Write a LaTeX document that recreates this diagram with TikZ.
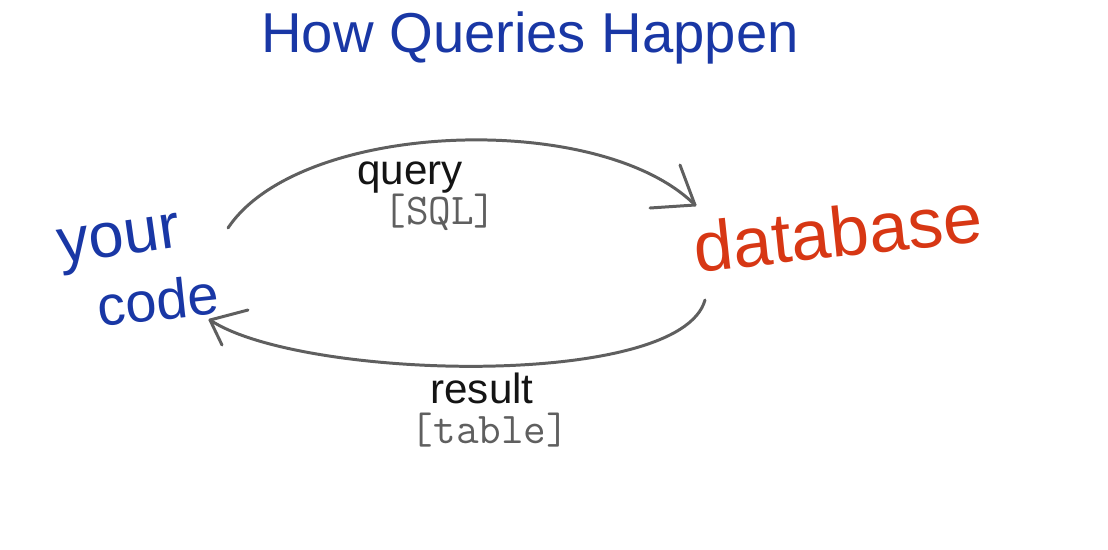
\documentclass[tikz,border=0pt]{standalone}
\usepackage{fontspec}
\setmainfont{Liberation Sans}
\definecolor{inkblue}{RGB}{25,55,165}
\definecolor{inkred}{RGB}{215,55,20}
\definecolor{inkgray}{RGB}{95,95,95}
\definecolor{inkblack}{RGB}{20,20,20}
\begin{document}
\begin{tikzpicture}[x=0.02cm,y=-0.02cm,
  flow/.style={draw=inkgray,line width=1.7pt,line cap=round,line join=round},
  lbl/.style={inner sep=0pt,font=\fontsize{24}{26}\selectfont,text=inkblack},
  sub/.style={inner sep=0pt,font=\fontsize{25}{27}\selectfont\ttfamily,text=inkgray}]
\useasboundingbox (0,0) rectangle (1108,549);
\node[inner sep=0pt,text=inkblue,font=\fontsize{32}{34}\selectfont] (title) at (530,38) {How Queries Happen};
\node[inner sep=0pt,text=inkblue,font=\fontsize{36}{38}\selectfont,rotate=8] (your) at (120,245) {your};
\node[inner sep=0pt,text=inkblue,font=\fontsize{32}{34}\selectfont,rotate=6] (code) at (158,300) {code};
\node[inner sep=0pt,text=inkred,font=\fontsize{40}{42}\selectfont,rotate=6] (db) at (838,232) {database};
\node[lbl] (query) at (410,178) {query};
\node[sub] (sql) at (440,212) {[SQL]};
\node[lbl] (result) at (482,388) {result};
\node[sub] (table) at (490,430) {[table]};
\coordinate (a1) at (228,228);
\coordinate (a2) at (695,205);
\coordinate (b1) at (705,300);
\coordinate (b2) at (210,320);
\draw[flow] (a1) .. controls (300,120) and (600,110) .. (a2);
\draw[flow] (a2) -- ++(-15,-40);
\draw[flow] (a2) -- ++(-45,3);
\draw[flow] (b1) .. controls (680,390) and (300,380) .. (b2);
\draw[flow] (b2) -- ++(38,-10);
\draw[flow] (b2) -- ++(12,25);
\end{tikzpicture}
\end{document}
